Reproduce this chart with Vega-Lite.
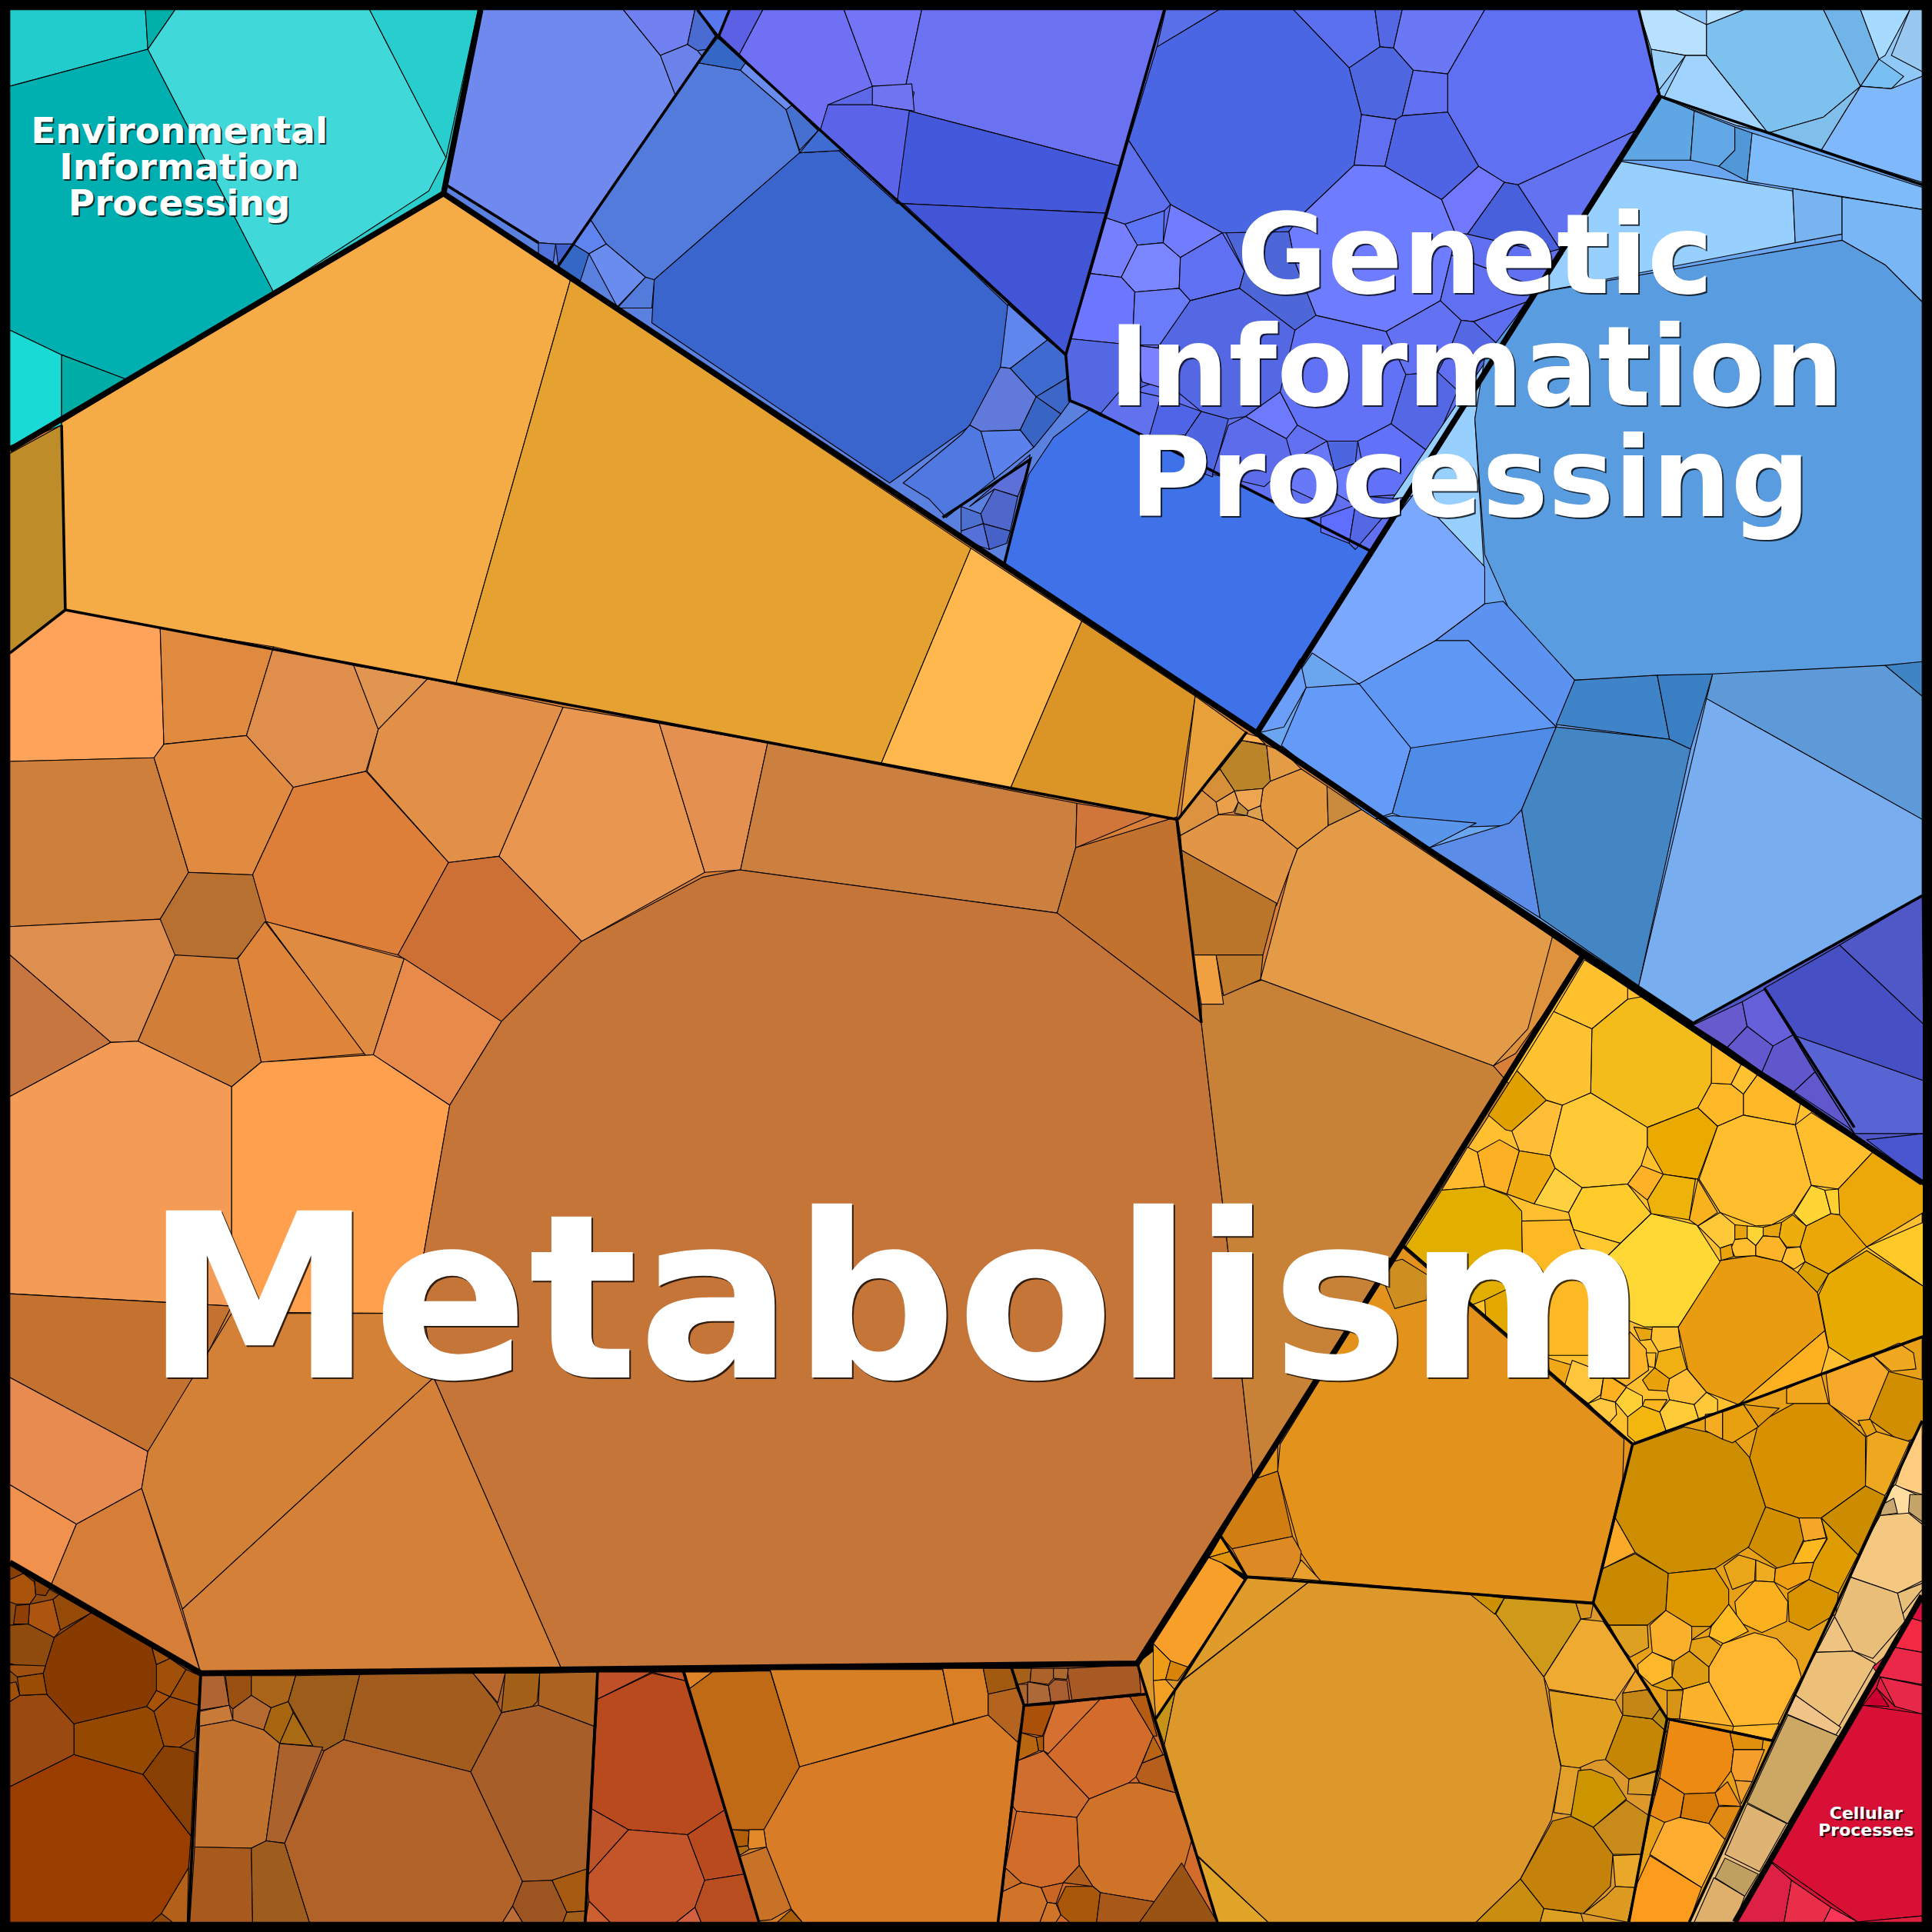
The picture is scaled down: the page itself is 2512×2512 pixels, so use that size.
{"$schema":"https://vega.github.io/schema/vega-lite/v6.json","width":2512,"height":2512,"padding":0,"autosize":"none","background":"#000000","config":{"view":{"stroke":null}},"projection":{"type":"identity","scale":1.60204,"translate":[0,0]},"datasets":{"labels":[
{"t":"Metabolism","k":"a","lon":727,"lat":1118},
{"t":"Genetic","k":"b","lon":1197,"lat":238},
{"t":"Information","k":"b","lon":1198,"lat":329},
{"t":"Processing","k":"b","lon":1193,"lat":419},
{"t":"Environmental","k":"c","lon":145.5,"lat":116},
{"t":"Information","k":"c","lon":145.5,"lat":145.5},
{"t":"Processing","k":"c","lon":145.5,"lat":175},
{"t":"Cellular","k":"d","lon":1514.5,"lat":1476},
{"t":"Processes","k":"d","lon":1514.5,"lat":1490}
]},"layer":[
{"data":{"values":[
{"c":"c001","g":{"type":"Polygon","coordinates":[[[8,8],[390,8],[360,157],[8,365],[8,8]]]}},
{"c":"c002","g":{"type":"Polygon","coordinates":[[[390,8],[583,8],[865,288],[868,325],[885,332],[1020,595],[360,157],[390,8]]]}},
{"c":"c003","g":{"type":"Polygon","coordinates":[[[583,8],[945,8],[865,288],[583,8]]]}},
{"c":"c004","g":{"type":"Polygon","coordinates":[[[945,8],[1330,8],[1347,78],[1112,447],[885,332],[868,325],[865,288],[945,8]]]}},
{"c":"c005","g":{"type":"Polygon","coordinates":[[[1347,78],[1560,150],[1560,727],[1375,830],[1020,595],[1347,78]]]}},
{"c":"c006","g":{"type":"Polygon","coordinates":[[[1330,8],[1560,8],[1560,150],[1347,78],[1330,8]]]}},
{"c":"c007","g":{"type":"Polygon","coordinates":[[[1375,830],[1560,727],[1560,960],[1375,830]]]}},
{"c":"c008","g":{"type":"Polygon","coordinates":[[[8,365],[360,157],[1020,595],[1285,775],[1138,1010],[923,1350],[163,1358],[8,1268],[8,365]]]}},
{"c":"c009","g":{"type":"Polygon","coordinates":[[[1285,775],[1560,960],[1560,1085],[1325,1172],[1138,1010],[1285,775]]]}},
{"c":"c010","g":{"type":"Polygon","coordinates":[[[1325,1172],[1560,1085],[1560,1153],[1371,1560],[1322,1560],[1353,1395],[1293,1301],[1325,1172]]]}},
{"c":"c011","g":{"type":"Polygon","coordinates":[[[1138,1010],[1325,1172],[1293,1301],[1012,1280],[991,1247],[1138,1010]]]}},
{"c":"c012","g":{"type":"Polygon","coordinates":[[[923,1350],[1012,1280],[1293,1301],[1353,1395],[1322,1560],[988,1560],[923,1350]]]}},
{"c":"c013","g":{"type":"Polygon","coordinates":[[[1560,1153],[1560,1295],[1408,1560],[1371,1560],[1560,1153]]]}},
{"c":"c014","g":{"type":"Polygon","coordinates":[[[1560,1295],[1560,1560],[1408,1560],[1560,1295]]]}},
{"c":"c015","g":{"type":"Polygon","coordinates":[[[163,1358],[485,1357],[475,1560],[153,1560],[163,1358]]]}},
{"c":"c016","g":{"type":"Polygon","coordinates":[[[8,1268],[163,1358],[153,1560],[8,1560],[8,1268]]]}},
{"c":"c017","g":{"type":"Polygon","coordinates":[[[485,1357],[555,1357],[616,1560],[475,1560],[485,1357]]]}},
{"c":"c018","g":{"type":"Polygon","coordinates":[[[555,1357],[821,1354],[810,1560],[616,1560],[555,1357]]]}},
{"c":"c019","g":{"type":"Polygon","coordinates":[[[821,1354],[923,1350],[988,1560],[810,1560],[821,1354]]]}},
{"c":"c020","g":{"type":"Polygon","coordinates":[[[8,8],[118,8],[120,40],[8,70],[8,8]]]}},
{"c":"c021","g":{"type":"Polygon","coordinates":[[[118,8],[142,8],[120,40],[118,8]]]}},
{"c":"c022","g":{"type":"Polygon","coordinates":[[[8,70],[120,40],[222,237],[103,308],[50,288],[8,268],[8,70]]]}},
{"c":"c023","g":{"type":"Polygon","coordinates":[[[142,8],[300,8],[362,128],[348,155],[222,237],[120,40],[142,8]]]}},
{"c":"c024","g":{"type":"Polygon","coordinates":[[[300,8],[388,8],[362,128],[300,8]]]}},
{"c":"c025","g":{"type":"Polygon","coordinates":[[[8,268],[50,288],[50,345],[8,362],[8,268]]]}},
{"c":"c026","g":{"type":"Polygon","coordinates":[[[50,288],[103,308],[50,342],[50,288]]]}},
{"c":"c027","g":{"type":"Polygon","coordinates":[[[390,8],[506,8],[536,45],[548,77],[465,198],[451,198],[437,197],[362,150],[390,8]]]}},
{"c":"c028","g":{"type":"Polygon","coordinates":[[[506,8],[564,8],[558,36],[536,45],[506,8]]]}},
{"c":"c029","g":{"type":"Polygon","coordinates":[[[536,45],[558,36],[566,41],[570,46],[548,77],[536,45]]]}},
{"c":"c030","g":{"type":"Polygon","coordinates":[[[567,51],[601,57],[638,89],[649,124],[531,227],[524,225],[492,198],[479,178],[567,51]]]}},
{"c":"c031","g":{"type":"Polygon","coordinates":[[[638,89],[643,85],[665,105],[649,122],[638,89]]]}},
{"c":"c032","g":{"type":"Polygon","coordinates":[[[649,124],[685,122],[818,248],[812,320],[788,345],[722,392],[529,262],[531,227],[649,124]]]}},
{"c":"c033","g":{"type":"Polygon","coordinates":[[[479,178],[492,198],[478,206],[465,198],[479,178]]]}},
{"c":"c034","g":{"type":"Polygon","coordinates":[[[478,206],[492,198],[524,225],[501,249],[478,206]]]}},
{"c":"c035","g":{"type":"Polygon","coordinates":[[[465,198],[478,206],[471,228],[453,216],[465,198]]]}},
{"c":"c036","g":{"type":"Polygon","coordinates":[[[818,247],[850,276],[820,299],[812,298],[818,247]]]}},
{"c":"c037","g":{"type":"Polygon","coordinates":[[[850,276],[865,288],[866,307],[841,322],[820,299],[850,276]]]}},
{"c":"c038","g":{"type":"Polygon","coordinates":[[[812,298],[820,299],[841,322],[828,349],[796,350],[787,345],[812,298]]]}},
{"c":"c039","g":{"type":"Polygon","coordinates":[[[841,322],[866,307],[869,325],[861,336],[841,322]]]}},
{"c":"c040","g":{"type":"Polygon","coordinates":[[[841,322],[861,336],[839,363],[828,349],[841,322]]]}},
{"c":"c041","g":{"type":"Polygon","coordinates":[[[796,350],[828,349],[839,363],[807,389],[796,350]]]}},
{"c":"c042","g":{"type":"Polygon","coordinates":[[[780,353],[787,345],[796,350],[807,389],[768,420],[754,405],[733,392],[780,353]]]}},
{"c":"c043","g":{"type":"Polygon","coordinates":[[[836,369],[834,382],[826,403],[807,397],[787,411],[836,369]]]}},
{"c":"c044","g":{"type":"Polygon","coordinates":[[[826,403],[820,431],[798,425],[796,417],[807,397],[826,403]]]}},
{"c":"c045","g":{"type":"Polygon","coordinates":[[[798,425],[820,431],[817,441],[803,446],[798,425]]]}},
{"c":"c046","g":{"type":"Polygon","coordinates":[[[780,411],[796,417],[798,425],[780,431],[780,411]]]}},
{"c":"c047","g":{"type":"Polygon","coordinates":[[[780,431],[798,425],[803,446],[780,438],[780,431]]]}},
{"c":"c048","g":{"type":"Polygon","coordinates":[[[885,332],[1112,447],[1020,595],[815,458],[835,385],[855,355],[885,332]]]}},
{"c":"c049","g":{"type":"Polygon","coordinates":[[[619,8],[685,8],[708,70],[672,85],[666,108],[600,44],[619,8]]]}},
{"c":"c050","g":{"type":"Polygon","coordinates":[[[685,8],[748,8],[735,70],[708,70],[685,8]]]}},
{"c":"c051","g":{"type":"Polygon","coordinates":[[[748,8],[945,8],[910,135],[738,90],[742,75],[735,70],[748,8]]]}},
{"c":"c052","g":{"type":"Polygon","coordinates":[[[708,70],[740,68],[742,90],[708,85],[708,70]]]}},
{"c":"c053","g":{"type":"Polygon","coordinates":[[[672,85],[708,85],[740,90],[728,165],[665,108],[672,85]]]}},
{"c":"c054","g":{"type":"Polygon","coordinates":[[[738,90],[910,135],[898,173],[728,165],[738,90]]]}},
{"c":"c055","g":{"type":"Polygon","coordinates":[[[728,165],[898,173],[865,287],[733,165],[728,165]]]}},
{"c":"c056","g":{"type":"Polygon","coordinates":[[[592,8],[619,8],[600,44],[584,29],[592,8]]]}},
{"c":"c057","g":{"type":"Polygon","coordinates":[[[939,38],[989,8],[1050,8],[1095,55],[1105,93],[1099,134],[1057,174],[1046,188],[992,189],[950,166],[916,114],[939,38]]]}},
{"c":"c058","g":{"type":"Polygon","coordinates":[[[946,8],[989,8],[939,38],[946,8]]]}},
{"c":"c059","g":{"type":"Polygon","coordinates":[[[1050,8],[1116,8],[1120,38],[1095,55],[1050,8]]]}},
{"c":"c060","g":{"type":"Polygon","coordinates":[[[1116,8],[1138,8],[1131,39],[1120,38],[1116,8]]]}},
{"c":"c061","g":{"type":"Polygon","coordinates":[[[1138,8],[1205,8],[1175,60],[1147,57],[1131,39],[1138,8]]]}},
{"c":"c062","g":{"type":"Polygon","coordinates":[[[1120,38],[1131,39],[1147,57],[1138,94],[1133,97],[1105,93],[1095,55],[1120,38]]]}},
{"c":"c063","g":{"type":"Polygon","coordinates":[[[1147,57],[1175,60],[1175,91],[1138,94],[1147,57]]]}},
{"c":"c064","g":{"type":"Polygon","coordinates":[[[1175,60],[1205,8],[1330,8],[1347,78],[1332,104],[1232,150],[1221,148],[1200,135],[1175,91],[1175,60]]]}},
{"c":"c065","g":{"type":"Polygon","coordinates":[[[1105,93],[1133,97],[1124,135],[1099,134],[1105,93]]]}},
{"c":"c066","g":{"type":"Polygon","coordinates":[[[1138,94],[1175,91],[1200,135],[1170,162],[1124,135],[1133,97],[1138,94]]]}},
{"c":"c067","g":{"type":"Polygon","coordinates":[[[1099,134],[1124,135],[1170,162],[1181,189],[1178,207],[1169,244],[1125,269],[1068,256],[1051,213],[1046,188],[1057,174],[1099,134]]]}},
{"c":"c068","g":{"type":"Polygon","coordinates":[[[1200,135],[1221,148],[1191,190],[1181,189],[1170,162],[1200,135]]]}},
{"c":"c069","g":{"type":"Polygon","coordinates":[[[1221,148],[1232,150],[1266,202],[1255,205],[1191,190],[1221,148]]]}},
{"c":"c070","g":{"type":"Polygon","coordinates":[[[1232,150],[1332,104],[1266,202],[1232,150]]]}},
{"c":"c071","g":{"type":"Polygon","coordinates":[[[916,114],[950,166],[945,171],[913,182],[898,177],[916,114]]]}},
{"c":"c072","g":{"type":"Polygon","coordinates":[[[913,182],[945,171],[944,197],[923,199],[913,182]]]}},
{"c":"c073","g":{"type":"Polygon","coordinates":[[[950,166],[992,189],[958,209],[944,197],[950,166]]]}},
{"c":"c074","g":{"type":"Polygon","coordinates":[[[898,177],[913,182],[923,199],[910,225],[885,222],[898,177]]]}},
{"c":"c075","g":{"type":"Polygon","coordinates":[[[923,199],[944,197],[958,209],[957,234],[921,237],[910,225],[923,199]]]}},
{"c":"c076","g":{"type":"Polygon","coordinates":[[[958,209],[992,189],[1010,220],[1006,234],[966,244],[957,234],[958,209]]]}},
{"c":"c077","g":{"type":"Polygon","coordinates":[[[995,189],[1046,188],[1051,213],[1068,256],[1051,268],[1006,234],[1010,220],[995,189]]]}},
{"c":"c078","g":{"type":"Polygon","coordinates":[[[885,222],[910,225],[921,237],[919,280],[869,275],[885,222]]]}},
{"c":"c079","g":{"type":"Polygon","coordinates":[[[921,237],[957,234],[966,244],[947,280],[919,280],[921,237]]]}},
{"c":"c080","g":{"type":"Polygon","coordinates":[[[966,244],[1006,234],[1051,268],[1040,318],[1011,338],[997,340],[975,334],[952,315],[939,283],[966,244]]]}},
{"c":"c081","g":{"type":"Polygon","coordinates":[[[869,275],[919,280],[944,283],[949,306],[927,314],[892,337],[869,325],[865,288],[869,275]]]}},
{"c":"c082","g":{"type":"Polygon","coordinates":[[[919,280],[944,283],[954,318],[927,310],[919,280]]]}},
{"c":"c083","g":{"type":"Polygon","coordinates":[[[892,337],[911,315],[942,322],[933,355],[892,337]]]}},
{"c":"c084","g":{"type":"Polygon","coordinates":[[[942,322],[975,334],[962,353],[933,353],[942,322]]]}},
{"c":"c085","g":{"type":"Polygon","coordinates":[[[975,334],[997,340],[984,387],[963,379],[962,353],[975,334]]]}},
{"c":"c086","g":{"type":"Polygon","coordinates":[[[1011,338],[1044,356],[1049,374],[1026,395],[984,385],[997,345],[1011,338]]]}},
{"c":"c087","g":{"type":"Polygon","coordinates":[[[1011,338],[1039,318],[1053,345],[1044,356],[1011,338]]]}},
{"c":"c088","g":{"type":"Polygon","coordinates":[[[1068,256],[1125,269],[1141,304],[1129,344],[1102,358],[1077,358],[1053,345],[1039,318],[1051,268],[1068,256]]]}},
{"c":"c089","g":{"type":"Polygon","coordinates":[[[1125,269],[1169,244],[1186,260],[1178,280],[1167,302],[1141,304],[1125,269]]]}},
{"c":"c090","g":{"type":"Polygon","coordinates":[[[1169,244],[1178,207],[1236,229],[1247,242],[1196,261],[1186,260],[1169,244]]]}},
{"c":"c091","g":{"type":"Polygon","coordinates":[[[1186,260],[1196,261],[1215,279],[1200,306],[1178,280],[1186,260]]]}},
{"c":"c092","g":{"type":"Polygon","coordinates":[[[1196,261],[1247,242],[1215,279],[1196,261]]]}},
{"c":"c093","g":{"type":"Polygon","coordinates":[[[1141,304],[1167,302],[1183,317],[1161,368],[1129,344],[1141,304]]]}},
{"c":"c094","g":{"type":"Polygon","coordinates":[[[1129,344],[1161,368],[1143,401],[1111,403],[1102,358],[1129,344]]]}},
{"c":"c095","g":{"type":"Polygon","coordinates":[[[1077,358],[1102,358],[1100,376],[1083,382],[1077,358]]]}},
{"c":"c096","g":{"type":"Polygon","coordinates":[[[1049,374],[1077,358],[1083,382],[1072,408],[1044,395],[1049,374]]]}},
{"c":"c097","g":{"type":"Polygon","coordinates":[[[1083,382],[1100,376],[1111,403],[1100,410],[1083,400],[1083,382]]]}},
{"c":"c098","g":{"type":"Polygon","coordinates":[[[1072,420],[1100,410],[1095,441],[1072,432],[1072,420]]]}},
{"c":"c099","g":{"type":"Polygon","coordinates":[[[1100,410],[1111,403],[1135,405],[1100,446],[1095,441],[1100,410]]]}},
{"c":"c100","g":{"type":"Polygon","coordinates":[[[1347,78],[1375,90],[1372,130],[1316,130],[1347,78]]]}},
{"c":"c101","g":{"type":"Polygon","coordinates":[[[1375,90],[1408,103],[1408,122],[1395,135],[1372,130],[1375,90]]]}},
{"c":"c102","g":{"type":"Polygon","coordinates":[[[1408,103],[1422,108],[1418,147],[1395,135],[1408,122],[1408,103]]]}},
{"c":"c103","g":{"type":"Polygon","coordinates":[[[1422,108],[1560,152],[1560,170],[1418,147],[1422,108]]]}},
{"c":"c104","g":{"type":"Polygon","coordinates":[[[1316,131],[1455,155],[1457,197],[1245,238],[1205,300],[1197,340],[1205,470],[1150,402],[1130,405],[1316,131]]]}},
{"c":"c105","g":{"type":"Polygon","coordinates":[[[1455,153],[1495,160],[1495,190],[1457,197],[1455,153]]]}},
{"c":"c106","g":{"type":"Polygon","coordinates":[[[1495,160],[1560,170],[1560,245],[1530,215],[1495,195],[1495,160]]]}},
{"c":"c107","g":{"type":"Polygon","coordinates":[[[1495,195],[1530,215],[1560,245],[1560,540],[1278,552],[1225,495],[1205,450],[1197,340],[1205,290],[1245,238],[1495,195]]]}},
{"c":"c108","g":{"type":"Polygon","coordinates":[[[1112,447],[1148,400],[1205,460],[1205,490],[1165,520],[1103,555],[1065,530],[1020,595],[1112,447]]]}},
{"c":"c109","g":{"type":"Polygon","coordinates":[[[1205,490],[1220,488],[1278,552],[1263,590],[1192,520],[1165,520],[1205,490]]]}},
{"c":"c110","g":{"type":"Polygon","coordinates":[[[1165,520],[1192,520],[1263,590],[1225,598],[1130,610],[1103,555],[1165,520]]]}},
{"c":"c111","g":{"type":"Polygon","coordinates":[[[1060,558],[1103,555],[1145,607],[1130,660],[1115,665],[1040,605],[1060,558]]]}},
{"c":"c112","g":{"type":"Polygon","coordinates":[[[1020,595],[1042,590],[1060,558],[1055,535],[1020,595]]]}},
{"c":"c113","g":{"type":"Polygon","coordinates":[[[1145,607],[1263,590],[1235,657],[1225,670],[1160,672],[1130,660],[1145,607]]]}},
{"c":"c114","g":{"type":"Polygon","coordinates":[[[1130,662],[1198,668],[1160,688],[1115,665],[1130,662]]]}},
{"c":"c115","g":{"type":"Polygon","coordinates":[[[1160,688],[1225,668],[1235,657],[1250,745],[1160,688]]]}},
{"c":"c116","g":{"type":"Polygon","coordinates":[[[1278,552],[1345,548],[1355,600],[1263,588],[1278,552]]]}},
{"c":"c117","g":{"type":"Polygon","coordinates":[[[1345,548],[1390,547],[1372,608],[1355,600],[1345,548]]]}},
{"c":"c118","g":{"type":"Polygon","coordinates":[[[1263,590],[1355,600],[1372,608],[1330,800],[1250,745],[1235,657],[1263,590]]]}},
{"c":"c119","g":{"type":"Polygon","coordinates":[[[1390,547],[1530,540],[1560,565],[1560,665],[1385,567],[1390,547]]]}},
{"c":"c120","g":{"type":"Polygon","coordinates":[[[1530,540],[1560,537],[1560,565],[1530,540]]]}},
{"c":"c121","g":{"type":"Polygon","coordinates":[[[1385,567],[1560,665],[1560,727],[1375,830],[1330,800],[1385,567]]]}},
{"c":"c122","g":{"type":"Polygon","coordinates":[[[1330,8],[1360,8],[1385,20],[1385,45],[1368,45],[1340,40],[1330,8]]]}},
{"c":"c123","g":{"type":"Polygon","coordinates":[[[1340,40],[1368,45],[1345,75],[1340,40]]]}},
{"c":"c124","g":{"type":"Polygon","coordinates":[[[1368,45],[1385,45],[1435,108],[1410,102],[1350,80],[1368,45]]]}},
{"c":"c125","g":{"type":"Polygon","coordinates":[[[1385,20],[1415,8],[1480,8],[1510,70],[1480,95],[1435,108],[1385,45],[1385,20]]]}},
{"c":"c126","g":{"type":"Polygon","coordinates":[[[1385,8],[1415,8],[1385,20],[1385,8]]]}},
{"c":"c127","g":{"type":"Polygon","coordinates":[[[1480,8],[1510,8],[1525,48],[1510,70],[1480,8]]]}},
{"c":"c128","g":{"type":"Polygon","coordinates":[[[1510,8],[1550,8],[1530,45],[1525,48],[1510,8]]]}},
{"c":"c129","g":{"type":"Polygon","coordinates":[[[1510,70],[1525,48],[1545,62],[1535,72],[1510,70]]]}},
{"c":"c130","g":{"type":"Polygon","coordinates":[[[1510,70],[1535,72],[1560,62],[1560,148],[1478,122],[1510,70]]]}},
{"c":"c131","g":{"type":"Polygon","coordinates":[[[1435,108],[1480,95],[1510,70],[1478,122],[1435,108]]]}},
{"c":"c132","g":{"type":"Polygon","coordinates":[[[1550,8],[1560,8],[1560,58],[1535,45],[1550,8]]]}},
{"c":"c133","g":{"type":"Polygon","coordinates":[[[1432,802],[1493,767],[1561,831],[1561,877],[1455,840],[1432,802]]]}},
{"c":"c134","g":{"type":"Polygon","coordinates":[[[1493,767],[1560,727],[1561,831],[1493,767]]]}},
{"c":"c135","g":{"type":"Polygon","coordinates":[[[1455,840],[1561,877],[1561,920],[1505,920],[1455,840]]]}},
{"c":"c136","g":{"type":"Polygon","coordinates":[[[1515,925],[1561,920],[1561,960],[1515,925]]]}},
{"c":"c137","g":{"type":"Polygon","coordinates":[[[1374,832],[1414,813],[1418,833],[1402,850],[1374,832]]]}},
{"c":"c138","g":{"type":"Polygon","coordinates":[[[1414,813],[1432,803],[1455,840],[1439,849],[1418,833],[1414,813]]]}},
{"c":"c139","g":{"type":"Polygon","coordinates":[[[1418,833],[1439,849],[1430,870],[1402,850],[1418,833]]]}},
{"c":"c140","g":{"type":"Polygon","coordinates":[[[1439,849],[1455,840],[1473,870],[1456,886],[1430,870],[1439,849]]]}},
{"c":"c141","g":{"type":"Polygon","coordinates":[[[1456,886],[1473,870],[1505,920],[1500,915],[1456,886]]]}},
{"c":"c142","g":{"type":"Polygon","coordinates":[[[8,368],[50,345],[53,495],[8,530],[8,368]]]}},
{"c":"c143","g":{"type":"Polygon","coordinates":[[[50,343],[360,157],[463,227],[370,555],[53,495],[50,343]]]}},
{"c":"c144","g":{"type":"Polygon","coordinates":[[[463,227],[788,445],[715,620],[370,555],[463,227]]]}},
{"c":"c145","g":{"type":"Polygon","coordinates":[[[788,445],[878,504],[820,640],[715,620],[788,445]]]}},
{"c":"c146","g":{"type":"Polygon","coordinates":[[[878,504],[970,565],[955,665],[820,640],[878,504]]]}},
{"c":"c147","g":{"type":"Polygon","coordinates":[[[970,565],[1012,595],[958,665],[970,565]]]}},
{"c":"c148","g":{"type":"Polygon","coordinates":[[[8,530],[53,495],[130,510],[133,604],[125,615],[8,618],[8,530]]]}},
{"c":"c149","g":{"type":"Polygon","coordinates":[[[130,510],[222,525],[200,597],[133,604],[130,510]]]}},
{"c":"c150","g":{"type":"Polygon","coordinates":[[[222,525],[287,540],[307,592],[297,626],[238,639],[200,597],[222,525]]]}},
{"c":"c151","g":{"type":"Polygon","coordinates":[[[287,540],[347,551],[307,592],[287,540]]]}},
{"c":"c152","g":{"type":"Polygon","coordinates":[[[347,551],[457,574],[405,695],[364,700],[298,626],[307,592],[347,551]]]}},
{"c":"c153","g":{"type":"Polygon","coordinates":[[[457,574],[535,587],[572,708],[472,764],[405,695],[457,574]]]}},
{"c":"c154","g":{"type":"Polygon","coordinates":[[[535,587],[623,603],[601,706],[572,708],[535,587]]]}},
{"c":"c155","g":{"type":"Polygon","coordinates":[[[623,603],[874,652],[873,688],[858,741],[601,706],[623,603]]]}},
{"c":"c156","g":{"type":"Polygon","coordinates":[[[874,652],[935,662],[873,688],[874,652]]]}},
{"c":"c157","g":{"type":"Polygon","coordinates":[[[873,688],[955,663],[975,830],[858,741],[873,688]]]}},
{"c":"c158","g":{"type":"Polygon","coordinates":[[[8,618],[125,615],[153,708],[130,746],[8,752],[8,618]]]}},
{"c":"c159","g":{"type":"Polygon","coordinates":[[[125,615],[133,604],[200,597],[238,639],[205,710],[153,708],[125,615]]]}},
{"c":"c160","g":{"type":"Polygon","coordinates":[[[238,639],[297,626],[364,700],[323,775],[215,748],[205,710],[238,639]]]}},
{"c":"c161","g":{"type":"Polygon","coordinates":[[[364,700],[405,695],[472,764],[407,829],[323,775],[364,700]]]}},
{"c":"c162","g":{"type":"Polygon","coordinates":[[[153,708],[205,710],[216,748],[205,765],[190,780],[140,775],[130,746],[153,708]]]}},
{"c":"c163","g":{"type":"Polygon","coordinates":[[[8,752],[130,746],[142,775],[112,845],[90,846],[8,775],[8,752]]]}},
{"c":"c164","g":{"type":"Polygon","coordinates":[[[8,775],[90,846],[8,890],[8,775]]]}},
{"c":"c165","g":{"type":"Polygon","coordinates":[[[142,775],[193,778],[212,862],[188,882],[112,845],[142,775]]]}},
{"c":"c166","g":{"type":"Polygon","coordinates":[[[215,748],[297,855],[212,862],[193,778],[215,748]]]}},
{"c":"c167","g":{"type":"Polygon","coordinates":[[[216,748],[328,778],[303,856],[297,857],[216,748]]]}},
{"c":"c168","g":{"type":"Polygon","coordinates":[[[328,778],[407,829],[365,897],[303,856],[328,778]]]}},
{"c":"c169","g":{"type":"Polygon","coordinates":[[[8,890],[90,846],[112,845],[188,882],[188,1060],[8,1050],[8,890]]]}},
{"c":"c170","g":{"type":"Polygon","coordinates":[[[188,882],[212,862],[303,856],[365,897],[340,1040],[335,1066],[188,1065],[188,882]]]}},
{"c":"c171","g":{"type":"Polygon","coordinates":[[[8,1050],[188,1060],[160,1115],[120,1178],[8,1118],[8,1050]]]}},
{"c":"c172","g":{"type":"Polygon","coordinates":[[[8,1118],[120,1178],[115,1208],[62,1237],[8,1205],[8,1118]]]}},
{"c":"c173","g":{"type":"Polygon","coordinates":[[[8,1205],[62,1237],[40,1290],[8,1268],[8,1205]]]}},
{"c":"c174","g":{"type":"Polygon","coordinates":[[[62,1237],[115,1208],[163,1358],[40,1290],[62,1237]]]}},
{"c":"c175","g":{"type":"Polygon","coordinates":[[[120,1178],[188,1066],[335,1066],[352,1118],[148,1306],[115,1208],[120,1178]]]}},
{"c":"c176","g":{"type":"Polygon","coordinates":[[[148,1306],[352,1118],[456,1355],[163,1358],[148,1306]]]}},
{"c":"c177","g":{"type":"Polygon","coordinates":[[[600,706],[858,741],[975,830],[995,1000],[1017,1200],[923,1350],[456,1355],[352,1118],[340,1040],[365,897],[407,829],[472,764],[570,712],[600,706]]]}},
{"c":"c178","g":{"type":"Polygon","coordinates":[[[975,830],[975,812],[1025,795],[1212,865],[1225,880],[1140,1010],[1017,1200],[995,1000],[975,830]]]}},
{"c":"c179","g":{"type":"Polygon","coordinates":[[[1105,657],[1260,760],[1252,825],[1212,865],[1023,795],[1047,705],[1053,689],[1078,670],[1105,657]]]}},
{"c":"c180","g":{"type":"Polygon","coordinates":[[[958,678],[989,661],[1012,662],[1025,666],[1053,689],[1047,705],[1036,735],[959,690],[958,678]]]}},
{"c":"c181","g":{"type":"Polygon","coordinates":[[[959,690],[1036,733],[1025,775],[968,775],[959,690]]]}},
{"c":"c182","g":{"type":"Polygon","coordinates":[[[968,775],[987,775],[993,815],[975,815],[968,775]]]}},
{"c":"c183","g":{"type":"Polygon","coordinates":[[[987,775],[1025,775],[1023,795],[993,808],[987,775]]]}},
{"c":"c184","g":{"type":"Polygon","coordinates":[[[1008,601],[1028,605],[1031,634],[1025,640],[1002,642],[990,624],[1008,601]]]}},
{"c":"c185","g":{"type":"Polygon","coordinates":[[[1025,640],[1031,634],[1056,624],[1077,638],[1078,670],[1053,689],[1025,666],[1023,654],[1025,640]]]}},
{"c":"c186","g":{"type":"Polygon","coordinates":[[[1077,638],[1105,657],[1078,670],[1077,638]]]}},
{"c":"c187","g":{"type":"Polygon","coordinates":[[[1260,760],[1285,778],[1230,855],[1212,865],[1240,835],[1260,760]]]}},
{"c":"c188","g":{"type":"Polygon","coordinates":[[[975,641],[987,651],[989,661],[958,678],[956,665],[975,641]]]}},
{"c":"c189","g":{"type":"Polygon","coordinates":[[[1286,779],[1321,801],[1321,811],[1292,835],[1261,821],[1286,779]]]}},
{"c":"c190","g":{"type":"Polygon","coordinates":[[[1321,811],[1332,809],[1390,847],[1389,879],[1378,899],[1337,915],[1291,887],[1292,835],[1321,811]]]}},
{"c":"c191","g":{"type":"Polygon","coordinates":[[[1261,821],[1292,835],[1291,887],[1268,897],[1255,893],[1231,869],[1261,821]]]}},
{"c":"c192","g":{"type":"Polygon","coordinates":[[[1231,869],[1255,893],[1227,918],[1222,917],[1208,905],[1231,869]]]}},
{"c":"c193","g":{"type":"Polygon","coordinates":[[[1268,897],[1255,893],[1227,918],[1233,934],[1258,938],[1268,897]]]}},
{"c":"c194","g":{"type":"Polygon","coordinates":[[[1268,897],[1291,887],[1337,915],[1337,930],[1332,946],[1321,961],[1284,964],[1262,948],[1258,938],[1268,897]]]}},
{"c":"c195","g":{"type":"Polygon","coordinates":[[[1337,915],[1378,899],[1394,914],[1378,957],[1350,953],[1337,930],[1337,915]]]}},
{"c":"c196","g":{"type":"Polygon","coordinates":[[[1389,879],[1405,880],[1415,888],[1415,905],[1394,914],[1378,899],[1389,879]]]}},
{"c":"c197","g":{"type":"Polygon","coordinates":[[[1389,847],[1413,864],[1405,880],[1389,879],[1389,847]]]}},
{"c":"c198","g":{"type":"Polygon","coordinates":[[[1413,864],[1428,870],[1415,888],[1405,880],[1413,864]]]}},
{"c":"c199","g":{"type":"Polygon","coordinates":[[[1428,870],[1462,892],[1457,913],[1415,905],[1415,888],[1428,870]]]}},
{"c":"c200","g":{"type":"Polygon","coordinates":[[[1470,903],[1520,935],[1492,965],[1470,962],[1457,913],[1470,903]]]}},
{"c":"c201","g":{"type":"Polygon","coordinates":[[[1394,914],[1415,905],[1457,913],[1470,962],[1455,985],[1438,994],[1425,995],[1396,984],[1379,957],[1394,914]]]}},
{"c":"c202","g":{"type":"Polygon","coordinates":[[[1520,935],[1561,962],[1561,984],[1515,1012],[1492,987],[1492,965],[1520,935]]]}},
{"c":"c203","g":{"type":"Polygon","coordinates":[[[1470,962],[1481,966],[1486,985],[1466,995],[1456,985],[1470,962]]]}},
{"c":"c204","g":{"type":"Polygon","coordinates":[[[1481,966],[1492,965],[1493,986],[1486,985],[1481,966]]]}},
{"c":"c205","g":{"type":"Polygon","coordinates":[[[1466,995],[1486,985],[1493,986],[1515,1012],[1484,1034],[1465,1024],[1461,1011],[1466,995]]]}},
{"c":"c206","g":{"type":"Polygon","coordinates":[[[1515,1012],[1561,992],[1561,1044],[1515,1012]]]}},
{"c":"c207","g":{"type":"Polygon","coordinates":[[[1515,1015],[1561,1044],[1561,1084],[1502,1105],[1484,1093],[1476,1051],[1484,1034],[1515,1015]]]}},
{"c":"c208","g":{"type":"Polygon","coordinates":[[[1396,1023],[1423,1019],[1446,1024],[1459,1033],[1475,1049],[1481,1080],[1411,1140],[1385,1130],[1370,1112],[1362,1077],[1396,1023]]]}},
{"c":"c209","g":{"type":"Polygon","coordinates":[[[1481,1080],[1484,1094],[1478,1115],[1411,1140],[1481,1080]]]}},
{"c":"c210","g":{"type":"Polygon","coordinates":[[[1340,985],[1377,994],[1396,1024],[1362,1077],[1335,1077],[1305,1065],[1305,1019],[1340,985]]]}},
{"c":"c211","g":{"type":"Polygon","coordinates":[[[1284,964],[1321,961],[1340,985],[1315,1009],[1277,998],[1273,984],[1284,964]]]}},
{"c":"c212","g":{"type":"Polygon","coordinates":[[[1321,961],[1332,946],[1350,953],[1337,974],[1321,961]]]}},
{"c":"c213","g":{"type":"Polygon","coordinates":[[[1350,953],[1376,957],[1371,990],[1340,985],[1337,974],[1350,953]]]}},
{"c":"c214","g":{"type":"Polygon","coordinates":[[[1378,957],[1394,984],[1378,995],[1371,990],[1378,957]]]}},
{"c":"c215","g":{"type":"Polygon","coordinates":[[[1284,964],[1262,948],[1245,977],[1273,984],[1284,964]]]}},
{"c":"c216","g":{"type":"Polygon","coordinates":[[[1258,938],[1233,934],[1223,969],[1245,977],[1262,948],[1258,938]]]}},
{"c":"c217","g":{"type":"Polygon","coordinates":[[[1233,934],[1217,925],[1199,935],[1205,963],[1223,969],[1233,934]]]}},
{"c":"c218","g":{"type":"Polygon","coordinates":[[[1199,935],[1205,963],[1170,966],[1191,931],[1199,935]]]}},
{"c":"c219","g":{"type":"Polygon","coordinates":[[[1170,966],[1205,963],[1223,970],[1235,983],[1236,1042],[1205,1055],[1192,1060],[1138,1016],[1170,966]]]}},
{"c":"c220","g":{"type":"Polygon","coordinates":[[[1235,991],[1274,990],[1283,1013],[1305,1019],[1305,1100],[1255,1100],[1236,1042],[1235,991]]]}},
{"c":"c221","g":{"type":"Polygon","coordinates":[[[1277,998],[1315,1009],[1305,1019],[1283,1013],[1277,998]]]}},
{"c":"c222","g":{"type":"Polygon","coordinates":[[[1205,1055],[1236,1040],[1256,1102],[1223,1088],[1206,1073],[1205,1055]]]}},
{"c":"c223","g":{"type":"Polygon","coordinates":[[[1256,1102],[1276,1108],[1270,1124],[1258,1118],[1256,1102]]]}},
{"c":"c224","g":{"type":"Polygon","coordinates":[[[1276,1104],[1302,1114],[1299,1132],[1289,1139],[1270,1124],[1276,1104]]]}},
{"c":"c225","g":{"type":"Polygon","coordinates":[[[1302,1114],[1320,1126],[1311,1138],[1299,1135],[1302,1114]]]}},
{"c":"c226","g":{"type":"Polygon","coordinates":[[[1320,1126],[1333,1133],[1333,1141],[1321,1150],[1311,1138],[1320,1126]]]}},
{"c":"c227","g":{"type":"Polygon","coordinates":[[[1333,1120],[1343,1110],[1355,1119],[1353,1129],[1338,1128],[1333,1120]]]}},
{"c":"c228","g":{"type":"Polygon","coordinates":[[[1346,1097],[1364,1093],[1369,1111],[1355,1119],[1343,1110],[1346,1097]]]}},
{"c":"c229","g":{"type":"Polygon","coordinates":[[[1355,1119],[1369,1111],[1385,1130],[1375,1140],[1355,1136],[1353,1129],[1355,1119]]]}},
{"c":"c230","g":{"type":"Polygon","coordinates":[[[1335,1136],[1353,1136],[1347,1146],[1333,1141],[1335,1136]]]}},
{"c":"c231","g":{"type":"Polygon","coordinates":[[[1355,1136],[1375,1140],[1379,1153],[1352,1161],[1347,1146],[1355,1136]]]}},
{"c":"c232","g":{"type":"Polygon","coordinates":[[[1385,1130],[1394,1136],[1394,1146],[1379,1153],[1375,1140],[1385,1130]]]}},
{"c":"c233","g":{"type":"Polygon","coordinates":[[[1321,1150],[1333,1141],[1347,1146],[1352,1161],[1329,1172],[1321,1165],[1321,1150]]]}},
{"c":"c234","g":{"type":"Polygon","coordinates":[[[1289,1139],[1299,1135],[1311,1138],[1312,1148],[1305,1156],[1289,1139]]]}},
{"c":"c235","g":{"type":"Polygon","coordinates":[[[1323,1081],[1336,1095],[1338,1112],[1320,1125],[1302,1114],[1323,1081]]]}},
{"c":"c236","g":{"type":"Polygon","coordinates":[[[1326,1077],[1341,1079],[1340,1087],[1331,1088],[1326,1077]]]}},
{"c":"c237","g":{"type":"Polygon","coordinates":[[[1341,1077],[1362,1077],[1364,1093],[1346,1097],[1340,1087],[1341,1077]]]}},
{"c":"c238","g":{"type":"Polygon","coordinates":[[[1336,1098],[1344,1098],[1343,1110],[1338,1109],[1336,1098]]]}},
{"c":"c239","g":{"type":"Polygon","coordinates":[[[1378,995],[1396,984],[1408,994],[1408,1009],[1396,1013],[1378,995]]]}},
{"c":"c240","g":{"type":"Polygon","coordinates":[[[1408,994],[1418,995],[1418,1005],[1408,1006],[1408,994]]]}},
{"c":"c241","g":{"type":"Polygon","coordinates":[[[1418,995],[1431,996],[1431,1003],[1425,1011],[1418,1005],[1418,995]]]}},
{"c":"c242","g":{"type":"Polygon","coordinates":[[[1431,996],[1446,992],[1444,1004],[1431,1003],[1431,996]]]}},
{"c":"c243","g":{"type":"Polygon","coordinates":[[[1446,992],[1455,986],[1466,995],[1461,1012],[1450,1012],[1444,1004],[1446,992]]]}},
{"c":"c244","g":{"type":"Polygon","coordinates":[[[1408,1006],[1418,1005],[1425,1011],[1425,1019],[1408,1020],[1405,1013],[1408,1006]]]}},
{"c":"c245","g":{"type":"Polygon","coordinates":[[[1425,1011],[1431,1003],[1444,1004],[1450,1013],[1446,1024],[1425,1019],[1425,1011]]]}},
{"c":"c246","g":{"type":"Polygon","coordinates":[[[1450,1013],[1461,1012],[1465,1024],[1456,1030],[1446,1024],[1450,1013]]]}},
{"c":"c247","g":{"type":"Polygon","coordinates":[[[1396,1013],[1405,1010],[1407,1020],[1397,1023],[1396,1013]]]}},
{"c":"c248","g":{"type":"Polygon","coordinates":[[[1465,1024],[1484,1034],[1475,1049],[1459,1033],[1465,1024]]]}},
{"c":"c249","g":{"type":"Polygon","coordinates":[[[1138,1012],[1318,1168],[1317,1200],[1293,1301],[1071,1283],[1055,1259],[1037,1194],[1039,1172],[1138,1012]]]}},
{"c":"c250","g":{"type":"Polygon","coordinates":[[[991,1247],[1019,1200],[1037,1194],[1049,1247],[1000,1257],[991,1247]]]}},
{"c":"c251","g":{"type":"Polygon","coordinates":[[[1019,1200],[1029,1185],[1037,1172],[1037,1194],[1019,1200]]]}},
{"c":"c252","g":{"type":"Polygon","coordinates":[[[1000,1257],[1049,1247],[1056,1259],[1055,1268],[1049,1281],[1012,1279],[1000,1257]]]}},
{"c":"c253","g":{"type":"Polygon","coordinates":[[[1056,1266],[1072,1283],[1049,1281],[1056,1266]]]}},
{"c":"c254","g":{"type":"Polygon","coordinates":[[[1123,1026],[1138,1022],[1159,1035],[1158,1055],[1132,1062],[1123,1040],[1123,1026]]]}},
{"c":"c255","g":{"type":"Polygon","coordinates":[[[981,1264],[991,1268],[1011,1283],[964,1353],[950,1348],[936,1334],[981,1264]]]}},
{"c":"c256","g":{"type":"Polygon","coordinates":[[[991,1247],[999,1259],[981,1264],[991,1247]]]}},
{"c":"c257","g":{"type":"Polygon","coordinates":[[[999,1259],[1012,1279],[991,1268],[981,1264],[999,1259]]]}},
{"c":"c258","g":{"type":"Polygon","coordinates":[[[936,1334],[950,1348],[946,1363],[936,1364],[936,1334]]]}},
{"c":"c259","g":{"type":"Polygon","coordinates":[[[950,1348],[964,1353],[956,1364],[946,1363],[950,1348]]]}},
{"c":"c260","g":{"type":"Polygon","coordinates":[[[936,1364],[946,1363],[954,1372],[938,1395],[936,1364]]]}},
{"c":"c261","g":{"type":"Polygon","coordinates":[[[954,1372],[945,1416],[938,1395],[954,1372]]]}},
{"c":"c262","g":{"type":"Polygon","coordinates":[[[945,1416],[954,1372],[960,1364],[1062,1284],[1192,1293],[1214,1310],[1253,1361],[1261,1406],[1267,1435],[1259,1477],[1234,1525],[1198,1560],[1029,1560],[971,1505],[945,1416]]]}},
{"c":"c263","g":{"type":"Polygon","coordinates":[[[1012,1279],[1062,1284],[958,1365],[972,1343],[1012,1279]]]}},
{"c":"c264","g":{"type":"Polygon","coordinates":[[[1192,1293],[1221,1297],[1213,1310],[1192,1293]]]}},
{"c":"c265","g":{"type":"Polygon","coordinates":[[[1221,1297],[1279,1301],[1283,1314],[1253,1361],[1214,1310],[1221,1297]]]}},
{"c":"c266","g":{"type":"Polygon","coordinates":[[[1279,1301],[1293,1302],[1291,1313],[1283,1314],[1279,1301]]]}},
{"c":"c267","g":{"type":"Polygon","coordinates":[[[1283,1314],[1301,1316],[1328,1355],[1311,1380],[1257,1371],[1253,1361],[1283,1314]]]}},
{"c":"c268","g":{"type":"Polygon","coordinates":[[[1257,1372],[1311,1380],[1317,1392],[1303,1428],[1295,1429],[1281,1435],[1267,1433],[1261,1406],[1257,1372]]]}},
{"c":"c269","g":{"type":"Polygon","coordinates":[[[1317,1392],[1341,1395],[1353,1406],[1347,1436],[1322,1444],[1303,1428],[1317,1392]]]}},
{"c":"c270","g":{"type":"Polygon","coordinates":[[[1317,1374],[1339,1371],[1347,1387],[1341,1395],[1317,1392],[1317,1374]]]}},
{"c":"c271","g":{"type":"Polygon","coordinates":[[[1328,1355],[1339,1371],[1317,1374],[1328,1355]]]}},
{"c":"c272","g":{"type":"Polygon","coordinates":[[[1347,1387],[1355,1396],[1353,1406],[1341,1395],[1347,1387]]]}},
{"c":"c273","g":{"type":"Polygon","coordinates":[[[1267,1433],[1283,1435],[1275,1473],[1261,1471],[1267,1433]]]}},
{"c":"c274","g":{"type":"Polygon","coordinates":[[[1281,1437],[1291,1436],[1309,1443],[1320,1460],[1293,1483],[1275,1474],[1281,1437]]]}},
{"c":"c275","g":{"type":"Polygon","coordinates":[[[1322,1444],[1347,1437],[1343,1457],[1321,1456],[1322,1444]]]}},
{"c":"c276","g":{"type":"Polygon","coordinates":[[[1320,1461],[1339,1474],[1333,1505],[1309,1505],[1293,1483],[1320,1461]]]}},
{"c":"c277","g":{"type":"Polygon","coordinates":[[[1260,1478],[1275,1474],[1293,1483],[1309,1505],[1307,1531],[1285,1553],[1253,1549],[1234,1525],[1260,1478]]]}},
{"c":"c278","g":{"type":"Polygon","coordinates":[[[1309,1506],[1333,1505],[1327,1532],[1311,1531],[1309,1506]]]}},
{"c":"c279","g":{"type":"Polygon","coordinates":[[[1303,1539],[1311,1531],[1327,1532],[1321,1560],[1285,1553],[1303,1539]]]}},
{"c":"c280","g":{"type":"Polygon","coordinates":[[[1234,1525],[1253,1549],[1250,1560],[1198,1560],[1234,1525]]]}},
{"c":"c281","g":{"type":"Polygon","coordinates":[[[1253,1549],[1283,1553],[1285,1560],[1250,1560],[1253,1549]]]}},
{"c":"c282","g":{"type":"Polygon","coordinates":[[[971,1506],[1029,1560],[987,1560],[971,1506]]]}},
{"c":"c283","g":{"type":"Polygon","coordinates":[[[1367,1158],[1406,1167],[1420,1183],[1433,1223],[1420,1255],[1392,1273],[1354,1277],[1327,1260],[1311,1232],[1325,1173],[1367,1158]]]}},
{"c":"c284","g":{"type":"Polygon","coordinates":[[[1427,1155],[1456,1139],[1484,1139],[1514,1166],[1514,1206],[1478,1232],[1460,1232],[1433,1223],[1420,1183],[1427,1155]]]}},
{"c":"c285","g":{"type":"Polygon","coordinates":[[[1532,1113],[1561,1120],[1561,1165],[1544,1171],[1517,1152],[1532,1113]]]}},
{"c":"c286","g":{"type":"Polygon","coordinates":[[[1482,1115],[1520,1100],[1533,1113],[1517,1152],[1509,1157],[1485,1140],[1482,1115]]]}},
{"c":"c287","g":{"type":"Polygon","coordinates":[[[1415,1140],[1444,1143],[1427,1158],[1415,1140]]]}},
{"c":"c288","g":{"type":"Polygon","coordinates":[[[1450,1127],[1478,1115],[1484,1139],[1450,1139],[1450,1127]]]}},
{"c":"c289","g":{"type":"Polygon","coordinates":[[[1398,1146],[1415,1140],[1427,1158],[1406,1171],[1398,1168],[1398,1146]]]}},
{"c":"c290","g":{"type":"Polygon","coordinates":[[[1384,1148],[1398,1146],[1398,1168],[1384,1161],[1384,1148]]]}},
{"c":"c291","g":{"type":"Polygon","coordinates":[[[1520,1100],[1532,1094],[1541,1090],[1553,1098],[1555,1111],[1535,1113],[1520,1100]]]}},
{"c":"c292","g":{"type":"Polygon","coordinates":[[[1508,1153],[1518,1152],[1523,1162],[1515,1166],[1508,1153]]]}},
{"c":"c293","g":{"type":"Polygon","coordinates":[[[1523,1162],[1550,1170],[1530,1214],[1514,1206],[1515,1166],[1523,1162]]]}},
{"c":"c294","g":{"type":"Polygon","coordinates":[[[1514,1206],[1530,1214],[1508,1262],[1478,1232],[1514,1206]]]}},
{"c":"c295","g":{"type":"Polygon","coordinates":[[[1433,1223],[1460,1232],[1464,1249],[1454,1271],[1443,1273],[1419,1256],[1433,1223]]]}},
{"c":"c296","g":{"type":"Polygon","coordinates":[[[1460,1232],[1478,1232],[1482,1248],[1464,1251],[1460,1232]]]}},
{"c":"c297","g":{"type":"Polygon","coordinates":[[[1464,1251],[1483,1248],[1472,1268],[1455,1269],[1464,1251]]]}},
{"c":"c298","g":{"type":"Polygon","coordinates":[[[1478,1232],[1508,1262],[1492,1293],[1468,1282],[1472,1268],[1483,1249],[1478,1232]]]}},
{"c":"c299","g":{"type":"Polygon","coordinates":[[[1311,1232],[1327,1260],[1301,1273],[1311,1232]]]}},
{"c":"c300","g":{"type":"Polygon","coordinates":[[[1327,1261],[1354,1277],[1352,1307],[1337,1319],[1306,1319],[1293,1300],[1301,1273],[1327,1261]]]}},
{"c":"c301","g":{"type":"Polygon","coordinates":[[[1354,1277],[1392,1273],[1403,1290],[1403,1305],[1388,1320],[1373,1320],[1352,1307],[1354,1277]]]}},
{"c":"c302","g":{"type":"Polygon","coordinates":[[[1399,1271],[1411,1262],[1425,1266],[1424,1283],[1406,1290],[1399,1271]]]}},
{"c":"c303","g":{"type":"Polygon","coordinates":[[[1425,1266],[1441,1273],[1440,1284],[1425,1283],[1425,1266]]]}},
{"c":"c304","g":{"type":"Polygon","coordinates":[[[1441,1273],[1455,1269],[1472,1268],[1468,1282],[1451,1290],[1440,1284],[1441,1273]]]}},
{"c":"c305","g":{"type":"Polygon","coordinates":[[[1424,1283],[1440,1284],[1451,1300],[1450,1316],[1430,1325],[1410,1316],[1408,1300],[1424,1283]]]}},
{"c":"c306","g":{"type":"Polygon","coordinates":[[[1451,1293],[1468,1282],[1492,1293],[1490,1310],[1468,1323],[1452,1316],[1451,1293]]]}},
{"c":"c307","g":{"type":"Polygon","coordinates":[[[1306,1319],[1337,1319],[1338,1337],[1323,1345],[1317,1338],[1306,1319]]]}},
{"c":"c308","g":{"type":"Polygon","coordinates":[[[1339,1319],[1352,1307],[1373,1320],[1373,1339],[1359,1348],[1341,1341],[1339,1319]]]}},
{"c":"c309","g":{"type":"Polygon","coordinates":[[[1373,1320],[1389,1320],[1373,1331],[1373,1320]]]}},
{"c":"c310","g":{"type":"Polygon","coordinates":[[[1389,1320],[1403,1302],[1419,1324],[1399,1334],[1387,1328],[1389,1320]]]}},
{"c":"c311","g":{"type":"Polygon","coordinates":[[[1373,1331],[1387,1328],[1397,1336],[1387,1353],[1371,1340],[1373,1331]]]}},
{"c":"c312","g":{"type":"Polygon","coordinates":[[[1359,1348],[1371,1340],[1387,1353],[1387,1365],[1366,1371],[1357,1361],[1359,1348]]]}},
{"c":"c313","g":{"type":"Polygon","coordinates":[[[1329,1351],[1341,1341],[1357,1348],[1357,1361],[1341,1368],[1330,1358],[1329,1351]]]}},
{"c":"c314","g":{"type":"Polygon","coordinates":[[[1398,1334],[1424,1325],[1442,1330],[1458,1347],[1462,1361],[1442,1401],[1407,1401],[1387,1365],[1387,1353],[1398,1334]]]}},
{"c":"c315","g":{"type":"Polygon","coordinates":[[[1366,1371],[1387,1365],[1407,1401],[1363,1395],[1366,1371]]]}},
{"c":"c316","g":{"type":"Polygon","coordinates":[[[1341,1368],[1357,1361],[1366,1371],[1353,1372],[1341,1368]]]}},
{"c":"c317","g":{"type":"Polygon","coordinates":[[[1353,1372],[1366,1372],[1363,1395],[1353,1395],[1353,1372]]]}},
{"c":"c318","g":{"type":"Polygon","coordinates":[[[1407,1401],[1444,1399],[1438,1412],[1406,1405],[1407,1401]]]}},
{"c":"c319","g":{"type":"Polygon","coordinates":[[[1355,1396],[1404,1406],[1407,1420],[1405,1437],[1392,1455],[1367,1456],[1347,1443],[1355,1396]]]}},
{"c":"c320","g":{"type":"Polygon","coordinates":[[[1404,1406],[1431,1412],[1430,1420],[1407,1420],[1404,1406]]]}},
{"c":"c321","g":{"type":"Polygon","coordinates":[[[1407,1420],[1432,1420],[1422,1446],[1408,1445],[1405,1437],[1407,1420]]]}},
{"c":"c322","g":{"type":"Polygon","coordinates":[[[1347,1443],[1367,1456],[1363,1478],[1351,1479],[1339,1473],[1347,1443]]]}},
{"c":"c323","g":{"type":"Polygon","coordinates":[[[1367,1456],[1392,1455],[1395,1465],[1387,1480],[1364,1475],[1367,1456]]]}},
{"c":"c324","g":{"type":"Polygon","coordinates":[[[1392,1455],[1402,1446],[1413,1466],[1395,1465],[1392,1455]]]}},
{"c":"c325","g":{"type":"Polygon","coordinates":[[[1408,1445],[1422,1446],[1413,1464],[1408,1445]]]}},
{"c":"c326","g":{"type":"Polygon","coordinates":[[[1395,1466],[1413,1466],[1400,1493],[1387,1480],[1395,1466]]]}},
{"c":"c327","g":{"type":"Polygon","coordinates":[[[1363,1475],[1387,1480],[1400,1493],[1381,1532],[1339,1505],[1351,1479],[1363,1475]]]}},
{"c":"c328","g":{"type":"Polygon","coordinates":[[[1339,1506],[1381,1532],[1371,1560],[1321,1560],[1329,1528],[1339,1506]]]}},
{"c":"c329","g":{"type":"Polygon","coordinates":[[[1550,1171],[1560,1155],[1560,1213],[1538,1206],[1550,1171]]]}},
{"c":"c330","g":{"type":"Polygon","coordinates":[[[1530,1213],[1538,1205],[1560,1215],[1560,1222],[1550,1230],[1548,1240],[1528,1230],[1530,1213]]]}},
{"c":"c331","g":{"type":"Polygon","coordinates":[[[1528,1221],[1537,1216],[1540,1228],[1526,1230],[1528,1221]]]}},
{"c":"c332","g":{"type":"Polygon","coordinates":[[[1560,1213],[1560,1235],[1549,1227],[1550,1213],[1560,1213]]]}},
{"c":"c333","g":{"type":"Polygon","coordinates":[[[1526,1230],[1549,1228],[1560,1237],[1560,1283],[1540,1293],[1502,1280],[1516,1248],[1526,1230]]]}},
{"c":"c334","g":{"type":"Polygon","coordinates":[[[1540,1293],[1560,1285],[1560,1290],[1544,1310],[1540,1293]]]}},
{"c":"c335","g":{"type":"Polygon","coordinates":[[[1502,1280],[1540,1293],[1546,1316],[1520,1346],[1504,1340],[1474,1341],[1489,1312],[1502,1280]]]}},
{"c":"c336","g":{"type":"Polygon","coordinates":[[[1489,1312],[1504,1340],[1474,1341],[1489,1312]]]}},
{"c":"c337","g":{"type":"Polygon","coordinates":[[[1474,1341],[1504,1340],[1522,1350],[1492,1402],[1456,1375],[1474,1341]]]}},
{"c":"c338","g":{"type":"Polygon","coordinates":[[[1456,1375],[1494,1402],[1490,1408],[1450,1391],[1456,1375]]]}},
{"c":"c339","g":{"type":"Polygon","coordinates":[[[1451,1392],[1492,1409],[1451,1480],[1418,1463],[1451,1392]]]}},
{"c":"c340","g":{"type":"Polygon","coordinates":[[[1418,1464],[1450,1480],[1428,1519],[1400,1505],[1418,1464]]]}},
{"c":"c341","g":{"type":"Polygon","coordinates":[[[1400,1508],[1427,1521],[1416,1539],[1392,1524],[1400,1508]]]}},
{"c":"c342","g":{"type":"Polygon","coordinates":[[[1391,1524],[1416,1539],[1408,1560],[1375,1560],[1391,1524]]]}},
{"c":"c343","g":{"type":"Polygon","coordinates":[[[1560,1297],[1560,1316],[1550,1313],[1560,1297]]]}},
{"c":"c344","g":{"type":"Polygon","coordinates":[[[1550,1313],[1560,1316],[1560,1341],[1538,1337],[1550,1313]]]}},
{"c":"c345","g":{"type":"Polygon","coordinates":[[[1538,1337],[1560,1341],[1560,1367],[1526,1361],[1520,1353],[1538,1337]]]}},
{"c":"c346","g":{"type":"Polygon","coordinates":[[[1523,1370],[1526,1361],[1560,1368],[1560,1391],[1538,1385],[1523,1370]]]}},
{"c":"c347","g":{"type":"Polygon","coordinates":[[[1512,1384],[1523,1370],[1533,1385],[1512,1384]]]}},
{"c":"c348","g":{"type":"Polygon","coordinates":[[[1526,1361],[1538,1385],[1523,1370],[1526,1361]]]}},
{"c":"c349","g":{"type":"Polygon","coordinates":[[[1512,1384],[1560,1391],[1560,1555],[1508,1560],[1438,1511],[1512,1384]]]}},
{"c":"c350","g":{"type":"Polygon","coordinates":[[[1438,1512],[1454,1526],[1448,1560],[1410,1560],[1438,1512]]]}},
{"c":"c351","g":{"type":"Polygon","coordinates":[[[1454,1526],[1486,1548],[1480,1560],[1448,1560],[1454,1526]]]}},
{"c":"c352","g":{"type":"Polygon","coordinates":[[[1486,1548],[1508,1560],[1480,1560],[1486,1548]]]}},
{"c":"c353","g":{"type":"Polygon","coordinates":[[[1505,1560],[1560,1555],[1560,1560],[1505,1560]]]}},
{"c":"c354","g":{"type":"Polygon","coordinates":[[[8,1450],[60,1424],[116,1440],[155,1490],[153,1516],[131,1553],[123,1560],[8,1560],[8,1450]]]}},
{"c":"c355","g":{"type":"Polygon","coordinates":[[[116,1440],[133,1417],[146,1418],[158,1422],[155,1490],[116,1440]]]}},
{"c":"c356","g":{"type":"Polygon","coordinates":[[[60,1399],[119,1385],[125,1389],[133,1417],[116,1440],[60,1424],[60,1399]]]}},
{"c":"c357","g":{"type":"Polygon","coordinates":[[[8,1381],[16,1376],[38,1375],[60,1399],[60,1424],[8,1450],[8,1381]]]}},
{"c":"c358","g":{"type":"Polygon","coordinates":[[[44,1329],[74,1309],[123,1336],[127,1351],[127,1372],[119,1385],[60,1399],[38,1375],[35,1358],[44,1329]]]}},
{"c":"c359","g":{"type":"Polygon","coordinates":[[[8,1319],[23,1318],[44,1329],[35,1358],[8,1350],[8,1319]]]}},
{"c":"c360","g":{"type":"Polygon","coordinates":[[[14,1361],[35,1358],[38,1375],[16,1376],[14,1361]]]}},
{"c":"c361","g":{"type":"Polygon","coordinates":[[[8,1351],[37,1352],[35,1358],[14,1361],[8,1356],[8,1351]]]}},
{"c":"c362","g":{"type":"Polygon","coordinates":[[[8,1366],[13,1365],[16,1376],[8,1381],[8,1366]]]}},
{"c":"c363","g":{"type":"Polygon","coordinates":[[[24,1302],[43,1298],[49,1323],[44,1329],[23,1318],[24,1302]]]}},
{"c":"c364","g":{"type":"Polygon","coordinates":[[[8,1279],[19,1277],[28,1284],[29,1295],[24,1302],[13,1302],[8,1300],[8,1279]]]}},
{"c":"c365","g":{"type":"Polygon","coordinates":[[[13,1303],[24,1302],[23,1318],[11,1318],[13,1303]]]}},
{"c":"c366","g":{"type":"Polygon","coordinates":[[[8,1269],[19,1277],[8,1282],[8,1269]]]}},
{"c":"c367","g":{"type":"Polygon","coordinates":[[[43,1298],[48,1294],[74,1309],[49,1323],[43,1298]]]}},
{"c":"c368","g":{"type":"Polygon","coordinates":[[[127,1372],[138,1377],[125,1389],[119,1385],[127,1372]]]}},
{"c":"c369","g":{"type":"Polygon","coordinates":[[[127,1351],[138,1346],[151,1355],[138,1377],[127,1372],[127,1351]]]}},
{"c":"c370","g":{"type":"Polygon","coordinates":[[[138,1377],[161,1384],[158,1410],[146,1418],[133,1417],[125,1389],[138,1377]]]}},
{"c":"c371","g":{"type":"Polygon","coordinates":[[[151,1355],[162,1360],[161,1384],[138,1377],[151,1355]]]}},
{"c":"c372","g":{"type":"Polygon","coordinates":[[[123,1336],[138,1346],[127,1351],[123,1336]]]}},
{"c":"c373","g":{"type":"Polygon","coordinates":[[[153,1516],[131,1553],[140,1560],[152,1560],[153,1516]]]}},
{"c":"c374","g":{"type":"Polygon","coordinates":[[[28,1282],[41,1288],[37,1295],[29,1294],[28,1282]]]}},
{"c":"c375","g":{"type":"Polygon","coordinates":[[[163,1360],[182,1360],[186,1384],[162,1388],[163,1360]]]}},
{"c":"c376","g":{"type":"Polygon","coordinates":[[[183,1360],[204,1360],[204,1376],[189,1387],[186,1384],[183,1360]]]}},
{"c":"c377","g":{"type":"Polygon","coordinates":[[[204,1360],[240,1360],[234,1381],[220,1386],[204,1376],[204,1360]]]}},
{"c":"c378","g":{"type":"Polygon","coordinates":[[[162,1389],[186,1384],[189,1396],[162,1401],[162,1389]]]}},
{"c":"c379","g":{"type":"Polygon","coordinates":[[[189,1387],[204,1376],[220,1386],[214,1404],[189,1396],[189,1387]]]}},
{"c":"c380","g":{"type":"Polygon","coordinates":[[[220,1386],[234,1381],[238,1390],[227,1415],[214,1404],[220,1386]]]}},
{"c":"c381","g":{"type":"Polygon","coordinates":[[[238,1390],[254,1417],[227,1415],[238,1390]]]}},
{"c":"c382","g":{"type":"Polygon","coordinates":[[[240,1360],[292,1359],[279,1412],[263,1421],[254,1417],[234,1381],[240,1360]]]}},
{"c":"c383","g":{"type":"Polygon","coordinates":[[[292,1359],[384,1358],[403,1382],[407,1390],[382,1438],[279,1412],[292,1359]]]}},
{"c":"c384","g":{"type":"Polygon","coordinates":[[[384,1358],[410,1358],[404,1382],[384,1358]]]}},
{"c":"c385","g":{"type":"Polygon","coordinates":[[[410,1358],[438,1358],[436,1381],[432,1385],[407,1390],[410,1358]]]}},
{"c":"c386","g":{"type":"Polygon","coordinates":[[[438,1358],[485,1357],[482,1401],[437,1384],[438,1358]]]}},
{"c":"c387","g":{"type":"Polygon","coordinates":[[[407,1390],[437,1384],[482,1401],[476,1517],[448,1526],[424,1527],[382,1438],[407,1390]]]}},
{"c":"c388","g":{"type":"Polygon","coordinates":[[[279,1412],[382,1438],[424,1527],[416,1547],[408,1560],[251,1560],[231,1496],[263,1421],[279,1412]]]}},
{"c":"c389","g":{"type":"Polygon","coordinates":[[[162,1401],[189,1396],[214,1404],[227,1415],[216,1494],[204,1500],[158,1499],[162,1401]]]}},
{"c":"c390","g":{"type":"Polygon","coordinates":[[[227,1415],[262,1418],[231,1496],[216,1494],[227,1415]]]}},
{"c":"c391","g":{"type":"Polygon","coordinates":[[[158,1499],[204,1500],[205,1560],[154,1560],[158,1499]]]}},
{"c":"c392","g":{"type":"Polygon","coordinates":[[[204,1500],[216,1494],[231,1496],[251,1560],[205,1560],[204,1500]]]}},
{"c":"c393","g":{"type":"Polygon","coordinates":[[[448,1526],[476,1517],[475,1551],[460,1552],[448,1526]]]}},
{"c":"c394","g":{"type":"Polygon","coordinates":[[[424,1527],[448,1526],[460,1552],[457,1560],[424,1560],[416,1547],[424,1527]]]}},
{"c":"c395","g":{"type":"Polygon","coordinates":[[[460,1552],[475,1551],[474,1560],[457,1560],[460,1552]]]}},
{"c":"c396","g":{"type":"Polygon","coordinates":[[[416,1547],[424,1560],[408,1560],[416,1547]]]}},
{"c":"c397","g":{"type":"Polygon","coordinates":[[[485,1357],[529,1357],[485,1379],[485,1357]]]}},
{"c":"c398","g":{"type":"Polygon","coordinates":[[[529,1357],[554,1357],[556,1364],[529,1357]]]}},
{"c":"c399","g":{"type":"Polygon","coordinates":[[[485,1379],[529,1358],[556,1364],[588,1469],[558,1489],[510,1485],[480,1468],[485,1379]]]}},
{"c":"c400","g":{"type":"Polygon","coordinates":[[[480,1468],[510,1485],[477,1522],[480,1468]]]}},
{"c":"c401","g":{"type":"Polygon","coordinates":[[[510,1485],[558,1489],[572,1526],[564,1548],[549,1560],[495,1560],[478,1543],[476,1523],[510,1485]]]}},
{"c":"c402","g":{"type":"Polygon","coordinates":[[[558,1489],[588,1469],[604,1521],[572,1526],[558,1489]]]}},
{"c":"c403","g":{"type":"Polygon","coordinates":[[[572,1526],[604,1521],[616,1560],[569,1560],[564,1548],[572,1526]]]}},
{"c":"c404","g":{"type":"Polygon","coordinates":[[[564,1548],[569,1560],[549,1560],[564,1548]]]}},
{"c":"c405","g":{"type":"Polygon","coordinates":[[[478,1543],[495,1560],[475,1560],[478,1543]]]}},
{"c":"c406","g":{"type":"Polygon","coordinates":[[[555,1357],[578,1357],[559,1371],[555,1357]]]}},
{"c":"c407","g":{"type":"Polygon","coordinates":[[[578,1357],[625,1356],[649,1434],[620,1485],[594,1485],[559,1371],[578,1357]]]}},
{"c":"c408","g":{"type":"Polygon","coordinates":[[[625,1355],[765,1355],[774,1399],[649,1434],[625,1355]]]}},
{"c":"c409","g":{"type":"Polygon","coordinates":[[[765,1354],[798,1354],[802,1375],[802,1392],[774,1399],[765,1354]]]}},
{"c":"c410","g":{"type":"Polygon","coordinates":[[[798,1354],[821,1354],[825,1370],[802,1375],[798,1354]]]}},
{"c":"c411","g":{"type":"Polygon","coordinates":[[[802,1375],[825,1370],[831,1384],[826,1414],[802,1392],[802,1375]]]}},
{"c":"c412","g":{"type":"Polygon","coordinates":[[[649,1434],[802,1392],[826,1414],[810,1560],[651,1560],[642,1549],[622,1499],[620,1485],[649,1434]]]}},
{"c":"c413","g":{"type":"Polygon","coordinates":[[[594,1485],[608,1486],[607,1498],[598,1499],[594,1485]]]}},
{"c":"c414","g":{"type":"Polygon","coordinates":[[[608,1485],[620,1485],[622,1499],[607,1501],[608,1485]]]}},
{"c":"c415","g":{"type":"Polygon","coordinates":[[[598,1499],[607,1498],[608,1501],[600,1506],[598,1499]]]}},
{"c":"c416","g":{"type":"Polygon","coordinates":[[[600,1507],[622,1499],[642,1549],[626,1558],[616,1559],[600,1507]]]}},
{"c":"c417","g":{"type":"Polygon","coordinates":[[[642,1550],[651,1560],[631,1560],[642,1550]]]}},
{"c":"c418","g":{"type":"Polygon","coordinates":[[[866,1354],[924,1351],[926,1374],[870,1380],[866,1354]]]}},
{"c":"c419","g":{"type":"Polygon","coordinates":[[[821,1354],[837,1354],[836,1365],[826,1367],[821,1354]]]}},
{"c":"c420","g":{"type":"Polygon","coordinates":[[[837,1354],[855,1354],[855,1362],[851,1367],[836,1365],[837,1354]]]}},
{"c":"c421","g":{"type":"Polygon","coordinates":[[[855,1354],[867,1354],[866,1363],[855,1362],[855,1354]]]}},
{"c":"c422","g":{"type":"Polygon","coordinates":[[[826,1367],[834,1367],[834,1384],[831,1384],[826,1367]]]}},
{"c":"c423","g":{"type":"Polygon","coordinates":[[[834,1365],[851,1368],[853,1382],[834,1384],[834,1365]]]}},
{"c":"c424","g":{"type":"Polygon","coordinates":[[[851,1368],[856,1363],[866,1364],[868,1380],[853,1382],[851,1368]]]}},
{"c":"c425","g":{"type":"Polygon","coordinates":[[[831,1385],[856,1383],[846,1409],[828,1406],[831,1385]]]}},
{"c":"c426","g":{"type":"Polygon","coordinates":[[[828,1406],[841,1410],[843,1421],[826,1429],[828,1406]]]}},
{"c":"c427","g":{"type":"Polygon","coordinates":[[[841,1410],[847,1409],[847,1421],[843,1421],[841,1410]]]}},
{"c":"c428","g":{"type":"Polygon","coordinates":[[[856,1383],[893,1379],[852,1424],[847,1421],[847,1409],[856,1383]]]}},
{"c":"c429","g":{"type":"Polygon","coordinates":[[[893,1379],[917,1377],[936,1409],[922,1442],[916,1447],[884,1460],[850,1424],[893,1379]]]}},
{"c":"c430","g":{"type":"Polygon","coordinates":[[[917,1377],[930,1375],[939,1409],[936,1409],[917,1377]]]}},
{"c":"c431","g":{"type":"Polygon","coordinates":[[[936,1409],[944,1424],[927,1431],[936,1409]]]}},
{"c":"c432","g":{"type":"Polygon","coordinates":[[[927,1431],[945,1424],[954,1455],[925,1447],[922,1442],[927,1431]]]}},
{"c":"c433","g":{"type":"Polygon","coordinates":[[[826,1429],[847,1421],[884,1460],[874,1475],[825,1470],[822,1466],[826,1429]]]}},
{"c":"c434","g":{"type":"Polygon","coordinates":[[[825,1470],[874,1475],[876,1514],[863,1528],[845,1532],[829,1528],[816,1516],[825,1470]]]}},
{"c":"c435","g":{"type":"Polygon","coordinates":[[[884,1460],[916,1447],[925,1447],[954,1455],[967,1494],[959,1523],[940,1544],[893,1536],[887,1531],[876,1514],[874,1475],[884,1460]]]}},
{"c":"c436","g":{"type":"Polygon","coordinates":[[[816,1516],[829,1528],[814,1535],[816,1516]]]}},
{"c":"c437","g":{"type":"Polygon","coordinates":[[[814,1535],[829,1528],[845,1532],[850,1544],[844,1560],[810,1560],[814,1535]]]}},
{"c":"c438","g":{"type":"Polygon","coordinates":[[[845,1532],[863,1528],[857,1545],[850,1544],[845,1532]]]}},
{"c":"c439","g":{"type":"Polygon","coordinates":[[[850,1544],[857,1545],[861,1554],[857,1560],[844,1560],[850,1544]]]}},
{"c":"c440","g":{"type":"Polygon","coordinates":[[[863,1528],[876,1514],[887,1531],[863,1528]]]}},
{"c":"c441","g":{"type":"Polygon","coordinates":[[[865,1531],[887,1531],[893,1536],[890,1560],[868,1560],[861,1554],[858,1545],[865,1531]]]}},
{"c":"c442","g":{"type":"Polygon","coordinates":[[[893,1536],[940,1544],[925,1560],[890,1560],[893,1536]]]}},
{"c":"c443","g":{"type":"Polygon","coordinates":[[[925,1560],[959,1512],[988,1560],[925,1560]]]}},
{"c":"c444","g":{"type":"Polygon","coordinates":[[[1011,595],[1021,598],[1027,604],[1008,601],[1011,595]]]}},
{"c":"c445","g":{"type":"Polygon","coordinates":[[[1028,605],[1042,610],[1056,624],[1031,634],[1028,605]]]}},
{"c":"c446","g":{"type":"Polygon","coordinates":[[[990,624],[1002,642],[987,651],[975,641],[990,624]]]}},
{"c":"c447","g":{"type":"Polygon","coordinates":[[[987,651],[1002,642],[1005,651],[1001,659],[989,661],[987,651]]]}},
{"c":"c448","g":{"type":"Polygon","coordinates":[[[1002,642],[1025,640],[1023,654],[1013,658],[1005,651],[1002,642]]]}},
{"c":"c449","g":{"type":"Polygon","coordinates":[[[1005,651],[1013,658],[1012,662],[1002,660],[1005,651]]]}},
{"c":"c450","g":{"type":"Polygon","coordinates":[[[1013,658],[1023,654],[1025,666],[1012,662],[1013,658]]]}},
{"c":"c451","g":{"type":"Polygon","coordinates":[[[564,8],[566,8],[581,30],[574,40],[566,41],[558,36],[564,8]]]}},
{"c":"c452","g":{"type":"Polygon","coordinates":[[[567,8],[592,8],[583,29],[581,30],[567,8]]]}},
{"c":"c453","g":{"type":"Polygon","coordinates":[[[583,30],[605,51],[601,57],[567,51],[583,30]]]}},
{"c":"c454","g":{"type":"Polygon","coordinates":[[[605,51],[643,85],[638,89],[601,57],[605,51]]]}},
{"c":"c455","g":{"type":"Polygon","coordinates":[[[665,105],[685,122],[649,124],[665,105]]]}},
{"c":"c456","g":{"type":"Polygon","coordinates":[[[524,225],[531,227],[529,250],[501,250],[524,225]]]}},
{"c":"c457","g":{"type":"Polygon","coordinates":[[[437,197],[451,198],[449,213],[437,206],[437,197]]]}},
{"c":"c458","g":{"type":"Polygon","coordinates":[[[451,198],[465,198],[453,215],[451,198]]]}}
]},
"mark":{"type":"geoshape","stroke":"#000000","strokeWidth":1.1,"strokeJoin":"round"},
"encoding":{"shape":{"field":"g","type":"geojson"},"color":{"field":"c","type":"nominal","legend":null,"scale":{"range":[
"#2ACCCC","#5A80E0","#5C68E8","#6070F0","#6AA6F0","#90C8F8","#5058C8","#D88038","#FFC030","#E8A018",
"#E3931C","#DD982B","#E8BE78","#D81035","#A85E28","#8F4A0E","#B84A1E","#D77F25","#D36C2A","#22CCCC",
"#00B0A8","#00AFAF","#40D8D8","#28CDCD","#19DAD5","#00ADA5","#7089EE","#7080F0","#6A82EA","#527BDC",
"#4670D0","#3A65CC","#5F84F0","#6A8CEE","#3568C4","#5E86EC","#3F6BD0","#6079DA","#3C66C8","#3865C4",
"#5B82EC","#4F78E0","#5D70DA","#4F66CA","#4662C8","#4C70D0","#5570D8","#3F72E8","#7070F4","#7474F6",
"#6A72F2","#7074F0","#5B64E8","#4458DC","#4255D6","#5C60E4","#4A66E2","#5A70E8","#5A70EE","#5468E6",
"#6A78F6","#4E66E0","#6070F0","#6070F2","#6070F0","#4E64E4","#6E7CFF","#7278FE","#4860DC","#6272F0",
"#5E70EE","#5C74F6","#717CFF","#7680FF","#7A86FF","#6070F2","#4D66D8","#6C76FF","#6A7CFA","#5468E4",
"#5568E4","#7C82FF","#6272EE","#5064E8","#4E64E0","#5C6CEA","#6E7AFE","#6272F6","#6272F2","#6170F0",
"#5468E4","#5E6EF0","#5468E6","#6272F8","#4C66E0","#6878F8","#6E7CFF","#5E6EFF","#5468E6","#5FA7E4",
"#62A8E6","#5098D8","#7DBBFA","#97CFFF","#78B4F0","#78B6F6","#5A9CE0","#7AA8FF","#5C93F0","#5E98F4",
"#649AF8","#6B9EF8","#4E8CE8","#5A95EC","#5A8CE8","#3F84C8","#3A7EC4","#4485C4","#5F9AD8","#3F84C4",
"#78AEF0","#B8E0FF","#9AD0F8","#A0D4FF","#7DC1EE","#B8E0FF","#70B4E8","#A6DAFF","#78C0F4","#80B8FC",
"#80BEEC","#98C8F0","#4650C4","#5058C8","#5864D4","#4A56D0","#665ACC","#6560DA","#6358CE","#6057CC",
"#6058CC","#BE8C28","#F5AB46","#E6A231","#FFB84D","#DB9526","#E8A03B","#FFA35A","#DF8A3F","#E08E4B",
"#E09550","#E28F48","#E89650","#E39050","#CC8040","#D0763A","#C2722F","#CF7F3C","#E08B3F","#DD7F39",
"#CC7035","#B87030","#DE8E4E","#C87640","#D07E38","#DF8539","#E08B42","#E88B4A","#F49C55","#FFA04E",
"#C47230","#E88B50","#F0914D","#D67E37","#D48138","#D58038","#C67538","#C88238","#E49B48","#E29544",
"#BB752A","#F0A040","#C07B2C","#BC8428","#E39840","#C88A3C","#DE923C","#DD9240","#FFC22E","#F4BC1B",
"#FFC230","#DFA000","#FFBE38","#FFCA36","#EAAA00","#FFB928","#FFB928","#FFC230","#FFB928","#FFBF2C",
"#FFBE2D","#ECA808","#FFD435","#FFD030","#EBA708","#FFC928","#E6AA00","#E99C0F","#FDB020","#FFD835",
"#FFCC2C","#FFB228","#EDB30A","#F8B21E","#FFD040","#F0AB10","#FDB023","#FFBB2D","#E2AE00","#FDB923",
"#FFC830","#E3A800","#F0A818","#FFC53D","#FDB020","#FFD035","#E8A10A","#F0B012","#FFC038","#FDB520",
"#FFCC38","#FFC838","#F2B60F","#FFC840","#FDB428","#E9A412","#FFC232","#FFBE30","#FFC838","#E8A20A",
"#FFD535","#E8A50C","#EDAE0C","#FFBE30","#FDB428","#FFC030","#E8A30C","#D9A000","#E3931C","#D07E12",
"#E09118","#DE8A24","#E9A02E","#CF8F20","#F79F29","#EB980E","#E09410","#EE9C16","#D88408","#F2A024",
"#C49318","#DD982B","#E09C2A","#CC9000","#CF9A1A","#D8941C","#EFAA32","#E2A020","#C58605","#C48716",
"#EDA52E","#BB8A10","#E2A02A","#CC9500","#DA9C28","#C98A1C","#C4820A","#E9A82A","#DC9A20","#C98E10",
"#DDA020","#E0A428","#CC8E00","#D89000","#D08E00","#F6A828","#E29810","#F2A81E","#E8A010","#F5AC22",
"#F0A820","#E8A010","#EEA820","#CC8C00","#D08E00","#F5A828","#FDB820","#DE9C00","#FAAA28","#C88800",
"#DD9800","#E8A618","#F0AC20","#F0A010","#FBB11F","#D89400","#DDA020","#FBB02C","#DE9C18","#FFBB24",
"#E6A216","#DD9C12","#FFB82A","#FFB52E","#FDB22B","#E0A010","#D89414","#FFB72E","#EC8A12","#E0900C",
"#F69E2C","#E88A14","#D67A08","#EE8E18","#F0A030","#E08A14","#FFAD30","#FC9C1D","#FFCC80","#FFDCA0",
"#C8A870","#C4A468","#F4C880","#E8C078","#E8BE78","#EEC480","#ECC078","#F0C488","#CDA865","#DEB374",
"#C0A060","#DEB06C","#DC1040","#F42A44","#EC2848","#E82848","#CC0030","#DC2040","#D81035","#DD2046",
"#E82E48","#F83458","#E02040","#9A3E00","#873F04","#954800","#9A4A10","#873B00","#8F4A0E","#9A4C05",
"#A05010","#A05008","#AD5510","#A8520A","#8F3E05","#8A4005","#964A08","#A85208","#A05008","#9C4C08",
"#9A4C08","#A05008","#B36018","#8A3F05","#AF6432","#9A5010","#AB6518","#C87B38","#B56A30","#A86510",
"#A86A12","#9C5C1A","#A25C1E","#B8682C","#A36018","#AC6220","#A85E28","#B06228","#C0722E","#AC622C",
"#A85A1E","#9E5C1E","#A55A10","#9C5420","#A05E1A","#BB6D35","#C05028","#C45528","#B84A1E","#BE5228",
"#C4552A","#B84A1E","#B84E20","#D06040","#CC6030","#DD8428","#C06A16","#D77F25","#D97F26","#A25A10",
"#B4641E","#D87C28","#B05E08","#E28A2A","#B06A14","#C77226","#A85E08","#A85A24","#A66018","#AC6228",
"#AD6A30","#AB6530","#AD6A38","#A85E30","#AA5008","#B8660F","#A85A08","#D67030","#D36C2A","#B55C12",
"#B96414","#B65E1C","#CF6E2F","#D26C2A","#CF7328","#C96E28","#D0742A","#C96624","#D07428","#B0601C",
"#A85808","#A85818","#995314","#FFAE50","#E39C44","#D89038","#EAA04A","#EEA552","#C08C3C","#DDA050",
"#4A6BD2","#5A78EE","#3567C6","#6A8CEE","#3E6CD2","#527BDC","#5070DA","#4060CC"
]}}}},
{"data":{"values":[
{"g":{"type":"LineString","coordinates":[[53,495],[955,665],[975,830]]}},
{"g":{"type":"LineString","coordinates":[[50,345],[53,495],[8,530]]}},
{"g":{"type":"LineString","coordinates":[[956,665],[1012,594]]}},
{"g":{"type":"LineString","coordinates":[[1330,8],[1347,78],[1560,150]]}},
{"g":{"type":"LineString","coordinates":[[945,8],[865,288],[868,325],[885,332],[1112,447]]}},
{"g":{"type":"LineString","coordinates":[[583,30],[865,288]]}},
{"g":{"type":"LineString","coordinates":[[566,8],[583,30],[592,8]]}},
{"g":{"type":"LineString","coordinates":[[581,30],[453,216]]}},
{"g":{"type":"LineString","coordinates":[[362,150],[437,197]]}},
{"g":{"type":"LineString","coordinates":[[765,420],[836,373],[815,458]]}},
{"g":{"type":"LineString","coordinates":[[1432,802],[1505,915]]}},
{"g":{"type":"LineString","coordinates":[[1375,830],[1560,727]]}},
{"g":{"type":"LineString","coordinates":[[1138,1010],[1325,1172],[1293,1301],[1012,1280],[991,1247]]}},
{"g":{"type":"LineString","coordinates":[[1325,1172],[1560,1085]]}},
{"g":{"type":"LineString","coordinates":[[1293,1301],[1353,1395],[1322,1560]]}},
{"g":{"type":"LineString","coordinates":[[1353,1395],[1440,1413]]}},
{"g":{"type":"LineString","coordinates":[[1012,1280],[958,1365],[938,1395]]}},
{"g":{"type":"LineString","coordinates":[[923,1350],[988,1560]]}},
{"g":{"type":"LineString","coordinates":[[163,1358],[153,1560]]}},
{"g":{"type":"LineString","coordinates":[[485,1357],[475,1560]]}},
{"g":{"type":"LineString","coordinates":[[555,1357],[616,1560]]}},
{"g":{"type":"LineString","coordinates":[[821,1354],[831,1384],[810,1560]]}},
{"g":{"type":"LineString","coordinates":[[831,1384],[930,1375]]}},
{"g":{"type":"LineString","coordinates":[[1371,1560],[1560,1153]]}}
]},"mark":{"type":"geoshape","filled":false,"stroke":"#000000","strokeWidth":3.6},"encoding":{"shape":{"field":"g","type":"geojson"}}},
{"data":{"values":[
{"g":{"type":"LineString","coordinates":[[8,365],[360,157],[390,8]]}},
{"g":{"type":"LineString","coordinates":[[360,157],[1020,595],[1285,775],[1560,960]]}},
{"g":{"type":"LineString","coordinates":[[1347,78],[1020,595]]}},
{"g":{"type":"LineString","coordinates":[[1285,775],[1138,1010],[923,1350],[163,1358],[8,1268]]}},
{"g":{"type":"LineString","coordinates":[[1408,1560],[1560,1295]]}}
]},"mark":{"type":"geoshape","filled":false,"stroke":"#000000","strokeWidth":7.5},"encoding":{"shape":{"field":"g","type":"geojson"}}},
{"data":{"values":[
{"g":{"type":"Polygon","coordinates":[[[0,0],[1568,0],[1568,1568],[0,1568],[0,0]],[[7.5,7.5],[7.5,1560.5],[1560.5,1560.5],[1560.5,7.5],[7.5,7.5]]]}}
]},"mark":{"type":"geoshape","fill":"#000000","stroke":null},"encoding":{"shape":{"field":"g","type":"geojson"}}},
{"data":{"name":"labels"},"mark":{"type":"text","font":"DejaVu Sans","fontWeight":"bold","align":"center","baseline":"alphabetic","fill":"#000000","opacity":0.75,"dx":2,"dy":2},
"encoding":{"longitude":{"field":"lon","type":"quantitative"},"latitude":{"field":"lat","type":"quantitative"},"text":{"field":"t","type":"nominal"},"size":{"field":"k","type":"nominal","legend":null,"scale":{"type":"ordinal","domain":["a","b","c","d"],"range":[298,144,47,22]}}}},
{"data":{"name":"labels"},"mark":{"type":"text","font":"DejaVu Sans","fontWeight":"bold","align":"center","baseline":"alphabetic","fill":"#FFFFFF"},
"encoding":{"longitude":{"field":"lon","type":"quantitative"},"latitude":{"field":"lat","type":"quantitative"},"text":{"field":"t","type":"nominal"},"size":{"field":"k","type":"nominal","legend":null,"scale":{"type":"ordinal","domain":["a","b","c","d"],"range":[298,144,47,22]}}}}
]}
